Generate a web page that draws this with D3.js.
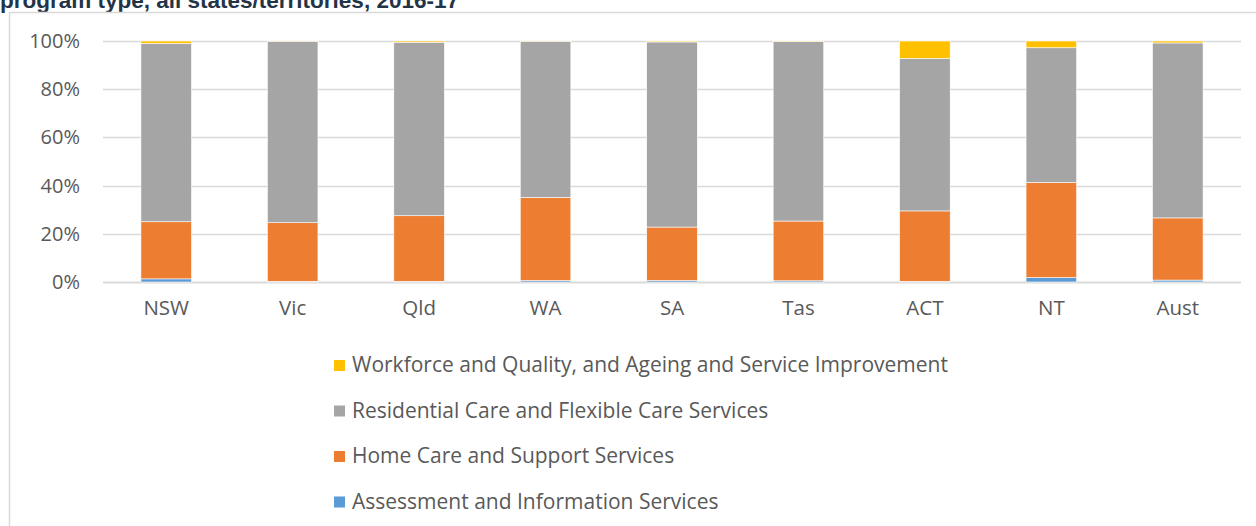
<!DOCTYPE html>
<html>
<head>
<meta charset="utf-8">
<script src="https://cdn.jsdelivr.net/npm/d3@7"></script>
<style>
  body { margin: 0; background: #fff; }
  svg { display: block; }
  .tick text { fill: #595959; }
</style>
</head>
<body>
<div id="chart"></div>
<script>
// shares by program type (%)
var states = ["NSW", "Vic", "Qld", "WA", "SA", "Tas", "ACT", "NT", "Aust"];
var assessment = [1.3, 0.3, 0.3, 0.6, 0.6, 0.5, 0.3, 1.8, 0.8];
var homeCare   = [23.7, 24.3, 27.2, 34.5, 22.2, 24.8, 29.2, 39.5, 25.8];
var residential = [74.0, 75.3, 72.0, 64.8, 76.8, 74.5, 63.3, 55.9, 72.6];
var workforce  = [1.0, 0.1, 0.5, 0.1, 0.4, 0.2, 7.2, 2.8, 0.8];
var yTicks = [0, 20, 40, 60, 80, 100];

var seriesNames = [
  "Assessment and Information Services",
  "Home Care and Support Services",
  "Residential Care and Flexible Care Services",
  "Workforce and Quality, and Ageing and Service Improvement"
];
var seriesColors = ["#5B9BD5", "#ED7D31", "#A5A5A5", "#FFC000"];
var seriesValues = [assessment, homeCare, residential, workforce];

var W = 1256, H = 526;
var font = "'Open Sans', 'Noto Sans', sans-serif";

var svg = d3.select("#chart").append("svg").attr("width", W).attr("height", H);

// title, cut off at the top like the source
svg.append("text").attr("x", 0).attr("y", 8)
  .style("font-family", "Liberation Sans, Arial, sans-serif")
  .style("font-weight", "bold").style("font-size", "22.5px")
  .attr("fill", "#243447")
  .text("program type, all states/territories, 2016-17");

// chart area border
svg.append("rect").attr("x", 9.5).attr("y", 12.5)
  .attr("width", W).attr("height", H)
  .attr("fill", "none").attr("stroke", "#D9D9D9").attr("stroke-width", 1.5);

var rows = states.map(function(s, i){
  var r = {state: s};
  seriesNames.forEach(function(n, k){ r[n] = seriesValues[k][i]; });
  return r;
});
var stacked = d3.stack().keys(seriesNames)(rows);

var x = d3.scaleBand().domain(states).range([103, 1241]).paddingInner(0.6).paddingOuter(0.3);
var y = d3.scaleLinear().domain([0, 100]).range([282, 41]);

// gridlines
svg.append("g").selectAll("line").data(yTicks).join("line")
  .attr("x1", 103).attr("x2", 1241)
  .attr("y1", d => Math.round(y(d)) + 0.5).attr("y2", d => Math.round(y(d)) + 0.5)
  .attr("stroke", "#D9D9D9").attr("stroke-width", d => d == 0 ? 2 : 1.3);

// y axis labels
var yAxis = svg.append("g").attr("transform", "translate(80,0)")
  .call(d3.axisLeft(y).tickValues(yTicks).tickSize(0).tickPadding(0).tickFormat(d => d + "%"));
yAxis.select(".domain").remove();
yAxis.selectAll("text").style("font-family", font).style("font-size", "20px");

// bars
svg.append("g").selectAll("g").data(stacked).join("g")
  .attr("fill", (d, i) => seriesColors[i])
  .selectAll("rect").data(d => d).join("rect")
  .attr("x", d => x(d.data.state))
  .attr("width", x.bandwidth())
  .attr("y", d => y(d[1]))
  .attr("height", d => y(d[0]) - y(d[1]))
  .attr("stroke", "#fff").attr("stroke-width", 0.6);

// x axis labels
var xAxis = svg.append("g").attr("transform", "translate(0,300)")
  .call(d3.axisBottom(x).tickSize(0).tickPadding(0));
xAxis.select(".domain").remove();
xAxis.selectAll("text").style("font-family", font).style("font-size", "20.5px");

// legend, top entry is the top series
var legendOrder = [3, 2, 1, 0];
var lg = svg.append("g").selectAll("g").data(legendOrder).join("g")
  .attr("transform", (d, i) => "translate(334," + (365 + i * 45.5) + ")");
lg.append("rect").attr("x", 0).attr("y", -5).attr("width", 11).attr("height", 11)
  .attr("fill", d => seriesColors[d]);
lg.append("text").attr("x", 18).attr("y", 0).attr("dy", "0.35em")
  .style("font-family", font).style("font-size", "21px").attr("fill", "#595959")
  .text(d => seriesNames[d]);
</script>
</body>
</html>
